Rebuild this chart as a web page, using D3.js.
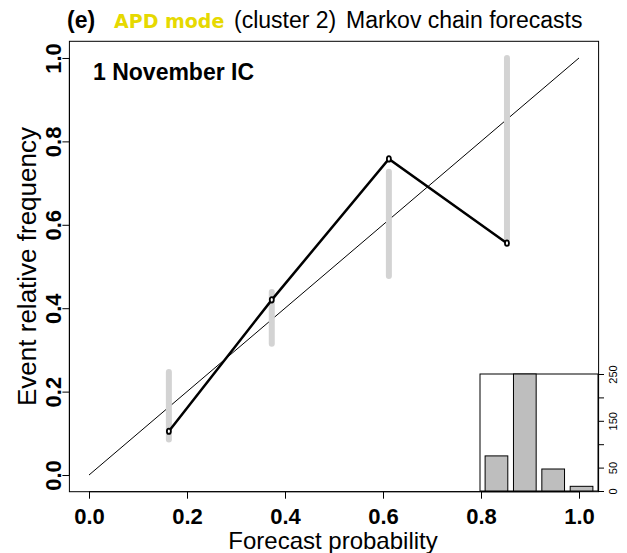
<!DOCTYPE html>
<html><head><meta charset="utf-8">
<script src="https://cdn.jsdelivr.net/npm/d3@7"></script>
<style>body{margin:0;background:#fff}svg{display:block}text{font-family:"Liberation Sans",Arial,sans-serif}</style>
</head><body><svg id="c" width="627" height="553"></svg>
<script>
const forecastProb = [0.163, 0.373, 0.612, 0.853];
const observedFreq = [0.105, 0.420, 0.758, 0.556];
const ciLow = [0.085, 0.315, 0.477, 0.556];
const ciHigh = [0.247, 0.439, 0.727, 1.0];
const histCounts = [75, 250, 47, 10];
const xTicks = [0, 0.2, 0.4, 0.6, 0.8, 1.0];
const yTicks = [0, 0.2, 0.4, 0.6, 0.8, 1.0];
const histTicks = [0, 50, 100, 150, 200, 250];
const histTickLabels = ["0", "50", "", "150", "", "250"];

const svg = d3.select("#c");
const FF = '"Liberation Sans",Arial,sans-serif';
const x = d3.scaleLinear().domain([-0.04, 1.04]).range([69.4, 598.6]);
const y = d3.scaleLinear().domain([-0.04, 1.04]).range([491.7, 41.3]);

// box
svg.append("rect").attr("x", x(-0.04)).attr("y", y(1.04)).attr("width", x(1.04) - x(-0.04)).attr("height", y(-0.04) - y(1.04))
  .attr("fill", "none").attr("stroke", "#000").attr("stroke-width", 1);

// axes
const xAxis = d3.axisBottom(x).tickValues(xTicks).tickFormat(d3.format(".1f")).tickSize(7).tickSizeOuter(0);
const gx = svg.append("g").attr("transform", `translate(0,${y(-0.04)})`).call(xAxis);
gx.select(".domain").attr("d", `M${x(0)},0H${x(1)}`);
gx.selectAll("text").attr("font-size", 22).attr("font-weight", "bold").attr("dy", null).attr("y", 32).attr("fill", "#000")
  .style("font-family", FF);

const yAxis = d3.axisLeft(y).tickValues(yTicks).tickFormat(d3.format(".1f")).tickSize(7).tickSizeOuter(0);
const gy = svg.append("g").attr("transform", `translate(${x(-0.04)},0)`).call(yAxis);
gy.select(".domain").attr("d", `M0,${y(0)}V${y(1)}`);
gy.selectAll(".tick text").attr("font-size", 22).attr("font-weight", "bold").attr("fill", "#000")
  .attr("x", null).attr("dy", null).attr("text-anchor", "middle")
  .attr("transform", "translate(-8,0) rotate(-90)")
  .style("font-family", FF);

// axis titles
svg.append("text").attr("x", 333).attr("y", 549).attr("text-anchor", "middle")
  .attr("font-size", 24).text("Forecast probability");
svg.append("text").attr("transform", `translate(36,${(y(0) + y(1)) / 2}) rotate(-90)`).attr("text-anchor", "middle")
  .attr("font-size", 26).text("Event relative frequency");

// diagonal
svg.append("line").attr("x1", x(0)).attr("y1", y(0)).attr("x2", x(1)).attr("y2", y(1)).attr("stroke", "#000").attr("stroke-width", 1);

// confidence bars
svg.selectAll(".ci").data(forecastProb).join("line").attr("class", "ci")
  .attr("x1", d => x(d)).attr("x2", d => x(d))
  .attr("y1", (d, i) => y(ciLow[i])).attr("y2", (d, i) => y(ciHigh[i]))
  .attr("stroke", "#d3d3d3").attr("stroke-width", 6).attr("stroke-linecap", "round");

// reliability line
const pts = forecastProb.map((d, i) => [d, observedFreq[i]]);
svg.append("path").attr("d", d3.line().x(d => x(d[0])).y(d => y(d[1]))(pts))
  .attr("fill", "none").attr("stroke", "#000").attr("stroke-width", 2.5);
svg.selectAll(".pt").data(pts).join("ellipse").attr("class", "pt")
  .attr("cx", d => x(d[0])).attr("cy", d => y(d[1])).attr("rx", 2).attr("ry", 2.7)
  .attr("fill", "#fff").attr("stroke", "#000").attr("stroke-width", 1.8);

// inset histogram
const hx0 = 480, hx1 = 598, hy0 = 374, hy1 = 491;
const hb = d3.scaleBand().domain(d3.range(histCounts.length)).range([hx0, hx1]).paddingInner(0.2).paddingOuter(0.18);
const hy = d3.scaleLinear().domain([0, 250]).range([hy1, hy0]);
svg.append("rect").attr("x", hx0).attr("y", hy0).attr("width", hx1 - hx0).attr("height", hy1 - hy0).attr("fill", "#fff").attr("stroke", "#000");
svg.selectAll(".hb").data(histCounts).join("rect").attr("class", "hb")
  .attr("x", (d, i) => hb(i)).attr("width", hb.bandwidth())
  .attr("y", d => hy(d)).attr("height", d => hy(0) - hy(d))
  .attr("fill", "#bebebe").attr("stroke", "#000").attr("stroke-width", 1);
const ha = d3.axisRight(hy).tickValues(histTicks).tickFormat((d, i) => histTickLabels[i]).tickSize(6).tickSizeOuter(0);
const gh = svg.append("g").attr("transform", `translate(${hx1},0)`).call(ha);
gh.selectAll(".tick text").attr("font-size", 11).attr("fill", "#000").attr("x", null).attr("dy", null)
  .attr("text-anchor", "middle").attr("transform", "translate(19,0) rotate(-90)")
  .style("font-family", FF);
svg.append("line").attr("x1", x(0.8)).attr("x2", x(1)).attr("y1", y(-0.04)).attr("y2", y(-0.04)).attr("stroke", "#000");

// labels
svg.append("text").attr("x", 93).attr("y", 80).attr("font-size", 23).attr("font-weight", "bold").text("1 November IC");

svg.append("text").attr("x", 67).attr("y", 28).attr("font-size", 23).attr("font-weight", "bold").text("(e)");
svg.append("text").attr("x", 114).attr("y", 28).attr("font-size", 19).attr("font-weight", "bold").attr("fill", "#e6d900")
  .style("font-family", '"DejaVu Sans",sans-serif').text("APD mode");
svg.append("text").attr("x", 234).attr("y", 28).attr("font-size", 23).text("(cluster 2)");
svg.append("text").attr("x", 346).attr("y", 28).attr("font-size", 23).text("Markov chain forecasts");
</script></body></html>
